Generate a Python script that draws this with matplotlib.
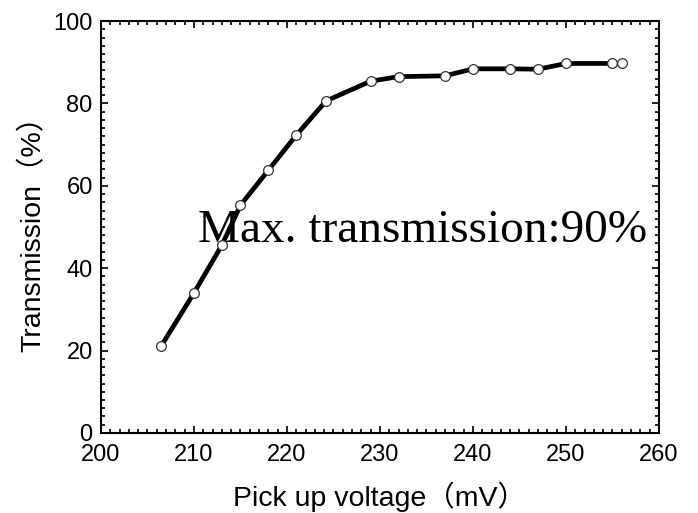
import matplotlib
matplotlib.use("Agg")
from matplotlib import pyplot
from matplotlib.ticker import MultipleLocator

# pick up voltage (mV) and transmission (%)
voltage = [206.5, 210.0, 213.0, 215.0, 218.0, 221.0, 224.2, 229.0, 232.0,
           237.0, 240.0, 244.0, 247.0, 250.0, 255.0, 256.0]
transmission = [21.2, 34.0, 45.6, 55.3, 63.8, 72.3, 80.6, 85.4, 86.5,
                86.7, 88.4, 88.4, 88.3, 89.7, 89.7, 89.7]

xticks = [200, 210, 220, 230, 240, 250, 260]
yticks = [0, 20, 40, 60, 80, 100]

sans = ["Liberation Sans", "Noto Sans CJK SC", "DejaVu Sans"]

fig = pyplot.figure(figsize=(6.98, 5.13), dpi=100)
ax = fig.add_axes([0.1447, 0.156, 0.7994, 0.803])

ax.plot(voltage, transmission, color="black", linewidth=3.4, marker="o",
        markersize=7, markerfacecolor="white", markeredgecolor="#333333",
        markeredgewidth=0.9, zorder=3)

ax.set_xlim(200, 260)
ax.set_ylim(0, 100)
ax.set_xticks(xticks)
ax.set_yticks(yticks)
ax.xaxis.set_minor_locator(MultipleLocator(1))
ax.yaxis.set_minor_locator(MultipleLocator(2))
ax.tick_params(which="both", direction="in", top=True, right=True, width=1.2)
ax.tick_params(which="major", length=5, labelsize=17)
ax.tick_params(which="minor", length=3)
ax.tick_params(axis="x", which="major", pad=8)
ax.tick_params(axis="y", which="major", pad=6)
for lab in ax.get_xticklabels() + ax.get_yticklabels():
    lab.set_family(sans)
for sp in ax.spines.values():
    sp.set_linewidth(1.5)

ax.set_xlabel("Pick up voltage（mV）", fontsize=20.5, family=sans, labelpad=11)
ax.set_ylabel("Transmission（%）", fontsize=20.5, family=sans, labelpad=5)

ax.text(198 / 698, 1 - 242 / 513, "Max. transmission:90%", transform=fig.transFigure,
        fontsize=34, family=["Liberation Serif", "DejaVu Serif"], ha="left",
        va="baseline", zorder=4)

pyplot.savefig("out.png", dpi=100)
